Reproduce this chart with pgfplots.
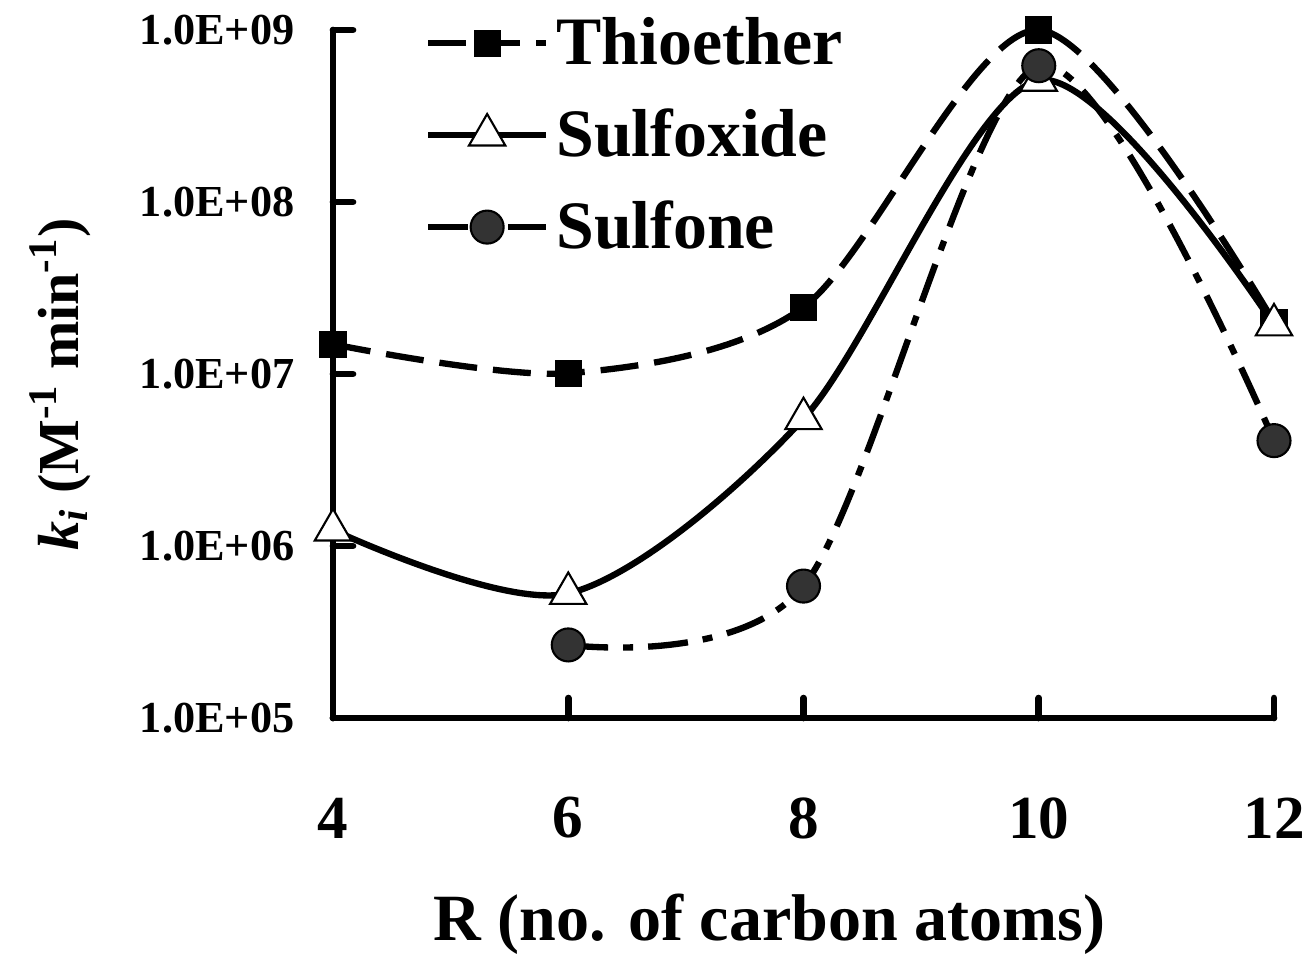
\documentclass[border=0pt]{standalone}
\usepackage{pgfplots}
\pgfplotsset{compat=1.18}
\usepackage{fontspec}
\setmainfont{Liberation Serif}

\begin{document}
\begin{tikzpicture}
\begin{axis}[
    name=ax,
    scale only axis,
    width=9.41cm,
    height=6.88cm,
    ymode=log,
    xmin=4, xmax=12,
    ymin=1e5, ymax=1e9,
    axis x line=bottom,
    axis y line=left,
    axis line style={-, line width=1.9pt, line cap=round},
    tick align=inside,
    major tick length=2mm,
    tick style={line width=1.9pt, black, line cap=round},
    yminorticks=false,
    xtick={4,6,8,10,12},
    ytick={1e5,1e6,1e7,1e8,1e9},
    yticklabels={1.0E+05,1.0E+06,1.0E+07,1.0E+08,1.0E+09},
    /pgf/number format/assume math mode=true,
    xticklabel style={font=\fontsize{17.4}{20}\selectfont\bfseries, anchor=center, yshift=-10mm},
    yticklabel style={font=\fontsize{12.6}{15}\selectfont\bfseries, anchor=east, inner sep=0pt, xshift=-3.8mm},
    xlabel={R (no. of carbon atoms)},
    xlabel style={font=\fontsize{18.8}{22}\selectfont\bfseries, at={(axis description cs:0.464,-0.30)}, anchor=center},
    ylabel={\textit{k}\textsubscript{\textit{i}} (M\textsuperscript{-1} min\textsuperscript{-1})},
    ylabel style={font=\fontsize{16.5}{20}\selectfont\bfseries, at={(axis description cs:-0.290,0.485)}, anchor=center, rotate=0},
    clip=false,
    legend style={at={(axis description cs:0.097,1.03)}, anchor=north west, draw=none, fill=none,
        font=\fontsize{19.3}{22}\selectfont\bfseries, row sep=2.5mm, inner sep=0pt},
    legend cell align=left,
    legend image code/.code={\draw[mark repeat=2, mark phase=2] plot coordinates {(0cm,0cm) (0.59cm,0cm) (1.18cm,0cm)};},
    every axis plot/.append style={line width=1.8pt, black, smooth},
]
\addplot[dash pattern=on 3.8mm off 1.6mm, mark=square*,
    mark options={solid, fill=black, line width=0.6pt}, mark size=1.25mm]
    coordinates {(4,1.49e7) (6,1.01e7) (8,2.45e7) (10,1.0e9) (12,2.0e7)};
\addlegendentry{Thioether}
\addplot[mark=triangle*, mark options={solid, fill=white, draw=black, line width=0.6pt}, mark size=2.1mm]
    coordinates {(4,1.24e6) (6,5.3e5) (8,5.5e6) (10,5.1e8) (12,1.93e7)};
\addlegendentry{Sulfoxide}
\addplot[dash pattern=on 4mm off 1.5mm on 1mm off 1.5mm, mark=*,
    mark options={solid, fill=black!80, draw=black, line width=0.6pt}, mark size=1.65mm]
    coordinates {(6,2.66e5) (8,5.85e5) (10,6.2e8) (12,4.1e6)};
\addlegendentry{Sulfone}
\end{axis}
% fix the page to the reference's frame round the axis
\pgfresetboundingbox
\path (ax.south west) ++(-33.3mm,-23.6mm) rectangle ++(130.6mm,95.4mm);
\end{tikzpicture}
\end{document}
